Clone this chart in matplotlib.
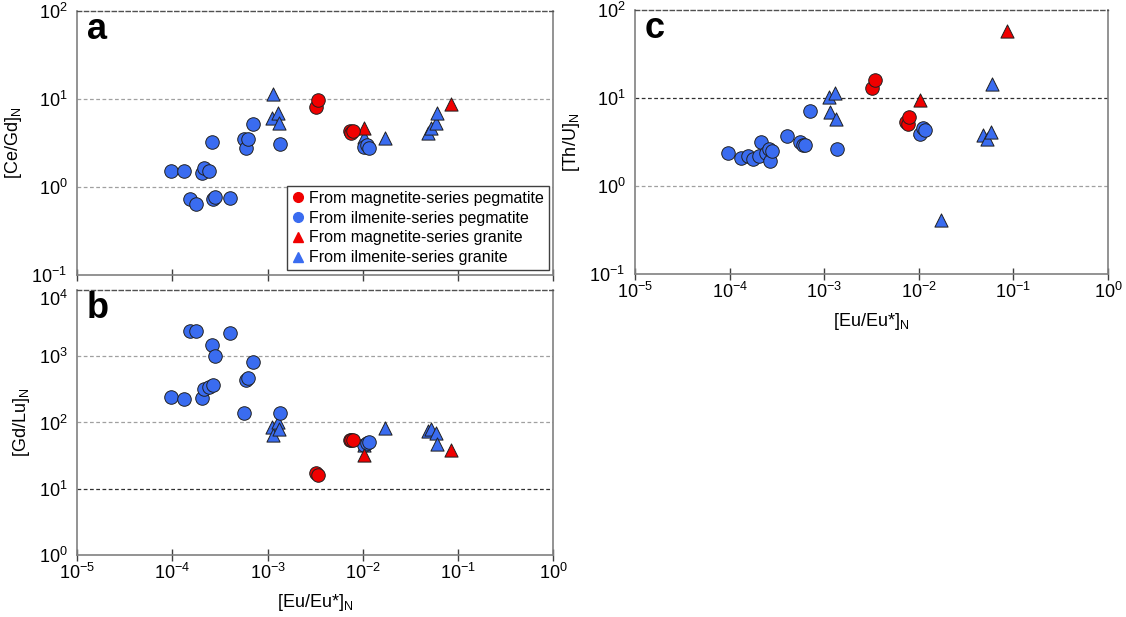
import matplotlib
matplotlib.use('Agg')
import matplotlib.pyplot as plt
from matplotlib.lines import Line2D
from matplotlib.ticker import LogLocator, NullLocator

plt.rcParams['font.family'] = ['Liberation Sans', 'DejaVu Sans']
plt.rcParams['mathtext.fontset'] = 'custom'
plt.rcParams['mathtext.rm'] = 'Liberation Sans'
plt.rcParams['mathtext.it'] = 'Liberation Sans:italic'
plt.rcParams['mathtext.bf'] = 'Liberation Sans:bold'
plt.rcParams['axes.unicode_minus'] = False

# magnetite-series pegmatite (red circles)
mp_eu = [3.2e-3, 3.4e-3, 7.3e-3, 7.6e-3, 7.9e-3]
mp_ce_gd = [8.2, 9.8, 4.3, 4.1, 4.4]
mp_gd_lu = [17, 16, 55, 55, 54]
mp_th_u = [13, 15.8, 5.3, 5.0, 6.0]

# ilmenite-series pegmatite (blue circles)
ip_eu = [9.7e-5, 1.32e-4, 1.55e-4, 1.77e-4, 2.05e-4, 2.16e-4, 2.45e-4, 2.6e-4, 2.65e-4, 2.8e-4,
         4.0e-4, 5.6e-4, 5.9e-4, 6.3e-4, 7.0e-4, 1.35e-3, 1.03e-2, 1.1e-2, 1.15e-2]
ip_ce_gd = [1.52, 1.52, 0.73, 0.65, 1.45, 1.64, 1.52, 3.25, 0.73, 0.78,
            0.76, 3.5, 2.8, 3.5, 5.2, 3.1, 2.85, 3.0, 2.75]
ip_gd_lu = [242, 225, 2400, 2400, 235, 315, 340, 1480, 365, 1000,
            2250, 138, 435, 470, 810, 138, 46, 49, 50]
ip_th_u = [2.37, 2.08, 2.2, 2.03, 2.2, 3.16, 2.37, 2.63, 1.94, 2.5,
           3.7, 3.16, 2.9, 2.9, 7.1, 2.63, 3.9, 4.6, 4.3]

# magnetite-series granite (red triangles)
mg_eu = [1.04e-2, 8.5e-2]
mg_ce_gd = [4.7, 8.8]
mg_gd_lu = [32, 38]
mg_th_u = [9.5, 57]

# ilmenite-series granite (blue triangles)
ig_eu = [1.12e-3, 1.15e-3, 1.30e-3, 1.32e-3, 1.03e-2, 1.70e-2, 4.8e-2, 5.2e-2, 5.8e-2, 6.0e-2]
ig_ce_gd = [6.1, 11.4, 6.9, 5.3, 3.7, 3.6, 4.1, 4.7, 5.3, 6.9]
ig_gd_lu = [85, 65, 100, 80, 45, 82, 74, 80, 69, 47]
ig_th_u = [10.3, 6.9, 11.4, 5.8, 4.4, 0.41, 3.8, 3.4, 4.1, 14.4]

labels = ['From magnetite-series pegmatite', 'From ilmenite-series pegmatite',
          'From magnetite-series granite', 'From ilmenite-series granite']

red = '#f00000'
blue = '#3a6cf0'
gris = '#a0a0a0'
negro = '#303030'

fig = plt.figure(figsize=(11.26, 6.17), dpi=100)
ax_a = fig.add_axes([0.0684, 0.554, 0.423, 0.428])
ax_b = fig.add_axes([0.0684, 0.1005, 0.423, 0.4295])
ax_c = fig.add_axes([0.564, 0.556, 0.420, 0.428])


def dibujar(ax, yp_m, yp_i, yg_m, yg_i, ylim, lineas, letra, ylabel, xlabels):
    ax.set_xscale('log')
    ax.set_yscale('log')
    ax.set_xlim(1e-5, 1)
    ax.set_ylim(*ylim)

    # lineas horizontales punteadas
    for y, c in lineas:
        ax.axhline(y, color=c, linestyle=(0, (3, 2)), linewidth=0.9, zorder=1)

    ax.scatter(ig_eu, yg_i, marker='^', s=90, color=blue, edgecolors='#202020', linewidths=0.7, zorder=3)
    ax.scatter(ip_eu, yp_i, marker='o', s=95, color=blue, edgecolors='#202020', linewidths=0.7, zorder=4)
    ax.scatter(mg_eu, yg_m, marker='^', s=90, color=red, edgecolors='#202020', linewidths=0.7, zorder=5)
    ax.scatter(mp_eu, yp_m, marker='o', s=95, color=red, edgecolors='#202020', linewidths=0.7, zorder=6)

    ax.xaxis.set_major_locator(LogLocator(base=10, numticks=10))
    ax.yaxis.set_major_locator(LogLocator(base=10, numticks=10))
    ax.xaxis.set_minor_locator(NullLocator())
    ax.yaxis.set_minor_locator(NullLocator())

    for s in ['left', 'right', 'bottom']:
        ax.spines[s].set_color('#808080')
        ax.spines[s].set_linewidth(1.2)
    ax.spines['top'].set_color('#505050')
    ax.spines['top'].set_linestyle((0, (3, 2)))
    ax.spines['top'].set_linewidth(1.0)

    ax.tick_params(axis='x', direction='inout', length=8, width=1, color='#404040',
                   labelsize=13, pad=2, labelbottom=xlabels)
    ax.tick_params(axis='y', length=0, labelsize=13, pad=7)
    ax.set_ylabel(ylabel, fontsize=13, labelpad=5)
    ax.text(0.02, 0.995, letra, transform=ax.transAxes, fontsize=26, fontweight='bold',
            ha='left', va='top')


dibujar(ax_a, mp_ce_gd, ip_ce_gd, mg_ce_gd, ig_ce_gd, (0.1, 100),
        [(1, gris), (10, gris)], 'a', '[Ce/Gd]$_\\mathregular{N}$', False)
dibujar(ax_b, mp_gd_lu, ip_gd_lu, mg_gd_lu, ig_gd_lu, (1, 10000),
        [(10, negro), (100, gris), (1000, gris)], 'b', '[Gd/Lu]$_\\mathregular{N}$', True)
dibujar(ax_c, mp_th_u, ip_th_u, mg_th_u, ig_th_u, (0.1, 100),
        [(1, gris), (10, negro)], 'c', '[Th/U]$_\\mathregular{N}$', True)

ax_b.set_xlabel('[Eu/Eu*]$_\\mathregular{N}$', fontsize=13, labelpad=6)
ax_c.set_xlabel('[Eu/Eu*]$_\\mathregular{N}$', fontsize=13, labelpad=6)

# leyenda
handles = [
    Line2D([], [], marker='o', linestyle='none', color=red, markersize=7),
    Line2D([], [], marker='o', linestyle='none', color=blue, markersize=7),
    Line2D([], [], marker='^', linestyle='none', color=red, markersize=7),
    Line2D([], [], marker='^', linestyle='none', color=blue, markersize=7),
]
leg = ax_a.legend(handles, labels, loc='lower right', bbox_to_anchor=(0.99, 0.02),
                  fontsize=11.5, frameon=True, fancybox=False, framealpha=1,
                  handlelength=0.8, handletextpad=0.3, labelspacing=0.3, borderpad=0.3,
                  borderaxespad=0)
leg.get_frame().set_edgecolor('#404040')
leg.get_frame().set_linewidth(1.0)
leg.set_zorder(10)

# bajar un poco la etiqueta superior de b para que no choque con la de a
fig.canvas.draw()
for tick in ax_b.yaxis.get_major_ticks():
    if abs(tick.get_loc() - 1e4) < 1:
        tick.label1.set_verticalalignment('top')
        tick.label1.set_y(tick.get_loc())

plt.savefig('out.png', dpi=100)
